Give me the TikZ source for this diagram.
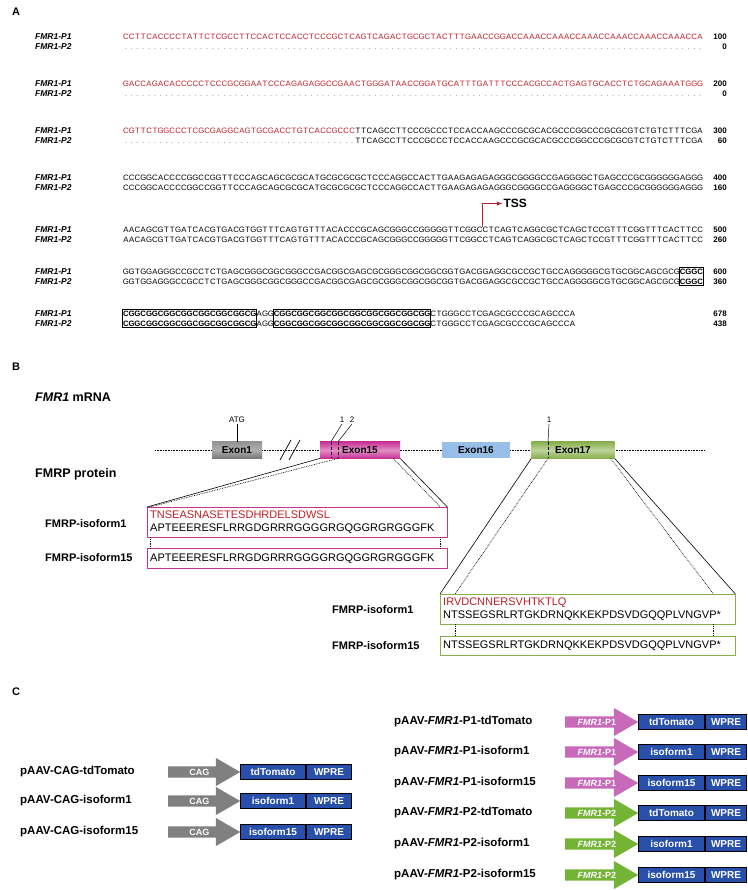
\documentclass[tikz,border=0pt]{standalone}
\usepackage{fontspec}
\setmainfont{Liberation Sans}
\usetikzlibrary{positioning,fit,shapes.arrows}

\definecolor{seqred}{RGB}{190,30,40}
\definecolor{exgrey}{RGB}{120,120,120}
\definecolor{exmag}{RGB}{200,50,150}
\definecolor{exblue}{RGB}{150,190,230}
\definecolor{exgreen}{RGB}{135,175,75}
\definecolor{cdsblue}{RGB}{40,80,170}
\definecolor{pone}{RGB}{200,105,185}
\definecolor{ptwo}{RGB}{115,180,55}

\newcommand{\seqfont}{\fontsize{7.8}{9}\selectfont}
\newcommand{\gname}{\textit{FMR1}}
% one base per cell, so that both rows stay aligned
\newcommand{\seqcell}[1]{\makebox[5.8pt]{#1}}
\def\sq#1{\ifx#1\relax\else\seqcell{#1}\expandafter\sq\fi}
\newcommand{\gapcells}[1]{\foreach \i in {1,...,#1}{\seqcell{.}}}

\begin{document}
\begin{tikzpicture}[x=1pt,y=-1pt,
  seq/.style={font=\seqfont, inner sep=0pt, outer sep=0pt, anchor=base west},
  bseq/.style={seq, font=\seqfont\bfseries},
  gap/.style={seq, text=gray},
  lab/.style={font=\bfseries\itshape\fontsize{8.5}{9}\selectfont, anchor=base west, inner sep=0pt},
  num/.style={font=\bfseries\fontsize{8}{9}\selectfont, anchor=base east, inner sep=0pt},
  seqbox/.style={draw=black, line width=0.8pt, inner xsep=0.3pt, inner ysep=1.5pt},
  panel/.style={font=\bfseries\fontsize{11}{12}\selectfont, anchor=north west, inner sep=0pt},
  head/.style={font=\bfseries\fontsize{12.5}{14}\selectfont, anchor=west, inner sep=0pt},
  exon/.style={minimum height=16.5pt, inner sep=0pt, font=\bfseries\fontsize{10}{11}\selectfont},
  sitelab/.style={font=\fontsize{8}{9}\selectfont, inner sep=1pt},
  prot/.style={inner sep=3pt, align=left, anchor=north west,
    font=\fontsize{11}{12.5}\selectfont},
  protedge/.style={line width=1pt},
  plab/.style={font=\bfseries\fontsize{11}{12}\selectfont, anchor=west, inner sep=0pt},
  vlab/.style={font=\bfseries\fontsize{11.5}{13}\selectfont, anchor=west, inner sep=0pt},
  prom/.style={single arrow, minimum width=28pt, single arrow head extend=6.5pt,
    single arrow tip angle=60, inner sep=1pt, text=white, anchor=west,
    font=\bfseries\fontsize{9}{10}\selectfont},
  cds/.style={draw=black, line width=1pt, fill=cdsblue, text=white, minimum height=15.5pt,
    inner sep=0pt, font=\bfseries\fontsize{10}{11}\selectfont}]

\useasboundingbox (0,0) rectangle (747,890);

% ---------------- A ----------------
\node[panel] (pa) at (12,8) {A};

% row 1
\node[lab] (l1a) at (35,40) {FMR1-P1};
\node[lab] (l1b) at (35,50) {FMR1-P2};
\node[seq, text=seqred] (s1a) at (123,40) {\sq CCTTCACCCCTATTCTCGCCTTCCACTCCACCTCCCGCTCAGTCAGACTGCGCTACTTTGAACCGGACCAAACCAAACCAAACCAAACCAAACCAAACCA\relax};
\node[gap] (s1b) at (123,50) {\gapcells{100}};
\node[num] (n1a) at (727,40) {100};
\node[num] (n1b) at (727,50) {0};

% row 2
\node[lab] (l2a) at (35,87) {FMR1-P1};
\node[lab] (l2b) at (35,97) {FMR1-P2};
\node[seq, text=seqred] (s2a) at (123,87) {\sq GACCAGACACCCCCTCCCGCGGAATCCCAGAGAGGCCGAACTGGGATAACCGGATGCATTTGATTTCCCACGCCACTGAGTGCACCTCTGCAGAAATGGG\relax};
\node[gap] (s2b) at (123,97) {\gapcells{100}};
\node[num] (n2a) at (727,87) {200};
\node[num] (n2b) at (727,97) {0};

% row 3
\node[lab] (l3a) at (35,134) {FMR1-P1};
\node[lab] (l3b) at (35,144) {FMR1-P2};
\node[seq, text=seqred] (s3a) at (123,134) {\sq CGTTCTGGCCCTCGCGAGGCAGTGCGACCTGTCACCGCCC\relax};
\node[seq] (s3b) at (s3a.base east) {\sq TTCAGCCTTCCCGCCCTCCACCAAGCCCGCGCACGCCCGGCCCGCGCGTCTGTCTTTCGA\relax};
\node[gap] (s3c) at (123,144) {\gapcells{40}};
\node[seq] (s3d) at (s3c.base east) {\sq TTCAGCCTTCCCGCCCTCCACCAAGCCCGCGCACGCCCGGCCCGCGCGTCTGTCTTTCGA\relax};
\node[num] (n3a) at (727,134) {300};
\node[num] (n3b) at (727,144) {60};

% row 4
\node[lab] (l4a) at (35,181) {FMR1-P1};
\node[lab] (l4b) at (35,191) {FMR1-P2};
\node[seq] (s4a) at (123,181) {\sq CCCGGCACCCCGGCCGGTTCCCAGCAGCGCGCATGCGCGCGCTCCCAGGCCACTTGAAGAGAGAGGGCGGGGCCGAGGGGCTGAGCCCGCGGGGGGAGGG\relax};
\node[seq] (s4b) at (123,191) {\sq CCCGGCACCCCGGCCGGTTCCCAGCAGCGCGCATGCGCGCGCTCCCAGGCCACTTGAAGAGAGAGGGCGGGGCCGAGGGGCTGAGCCCGCGGGGGGAGGG\relax};
\node[num] (n4a) at (727,181) {400};
\node[num] (n4b) at (727,191) {160};

% row 5
\node[lab] (l5a) at (35,233) {FMR1-P1};
\node[lab] (l5b) at (35,243) {FMR1-P2};
\node[seq] (s5a) at (123,233) {\sq AACAGCGTTGATCACGTGACGTGGTTTCAGTGTTTACACCCGCAGCGGGCCGGGGGTTCGGCC\relax};
\node[seq] (s5b) at (s5a.base east) {\sq TCAGTCAGGCGCTCAGCTCCGTTTCGGTTTCACTTCC\relax};
\node[seq] (s5c) at (123,243) {\sq AACAGCGTTGATCACGTGACGTGGTTTCAGTGTTTACACCCGCAGCGGGCCGGGGGTTCGGCC\relax};
\node[seq] (s5d) at (s5c.base east) {\sq TCAGTCAGGCGCTCAGCTCCGTTTCGGTTTCACTTCC\relax};
\node[num] (n5a) at (727,233) {500};
\node[num] (n5b) at (727,243) {260};
\coordinate (tss0) at ([xshift=-6pt,yshift=1pt]s5a.north east);
\coordinate (tss1) at ([xshift=-6pt,yshift=24pt]s5a.north east);
\node[font=\bfseries\fontsize{12}{13}\selectfont, anchor=west, inner sep=1pt] (tss) at ([xshift=20pt]tss1) {TSS};
\draw[seqred, line width=0.8pt, -latex] (tss0) -- (tss1) -- (tss.west);

% row 6
\node[lab] (l6a) at (35,274) {FMR1-P1};
\node[lab] (l6b) at (35,284) {FMR1-P2};
\node[seq] (s6a) at (123,274) {\sq GGTGGAGGGCCGCCTCTGAGCGGGCGGCGGGCCGACGGCGAGCGCGGGCGGCGGCGGTGACGGAGGCGCCGCTGCCAGGGGGCGTGCGGCAGCGCG\relax};
\node[bseq] (s6b) at (s6a.base east) {\sq CGGC\relax};
\node[seq] (s6c) at (123,284) {\sq GGTGGAGGGCCGCCTCTGAGCGGGCGGCGGGCCGACGGCGAGCGCGGGCGGCGGCGGTGACGGAGGCGCCGCTGCCAGGGGGCGTGCGGCAGCGCG\relax};
\node[bseq] (s6d) at (s6c.base east) {\sq CGGC\relax};
\node[seqbox, fit=(s6b)(s6d)] (box6) {};
\node[num] (n6a) at (727,274) {600};
\node[num] (n6b) at (727,284) {360};

% row 7
\node[lab] (l7a) at (35,316) {FMR1-P1};
\node[lab] (l7b) at (35,326) {FMR1-P2};
\node[bseq] (s7a) at (123,316) {\sq CGGCGGCGGCGGCGGCGGCGGCG\relax};
\node[seq] (s7b) at (s7a.base east) {\sq AGG\relax};
\node[bseq] (s7c) at (s7b.base east) {\sq CGGCGGCGGCGGCGGCGGCGGCGGCGG\relax};
\node[seq] (s7d) at (s7c.base east) {\sq CTGGGCCTCGAGCGCCCGCAGCCCA\relax};
\node[bseq] (s7e) at (123,326) {\sq CGGCGGCGGCGGCGGCGGCGGCG\relax};
\node[seq] (s7f) at (s7e.base east) {\sq AGG\relax};
\node[bseq] (s7g) at (s7f.base east) {\sq CGGCGGCGGCGGCGGCGGCGGCGGCGG\relax};
\node[seq] (s7h) at (s7g.base east) {\sq CTGGGCCTCGAGCGCCCGCAGCCCA\relax};
\node[seqbox, fit=(s7a)(s7e)] (box7a) {};
\node[seqbox, fit=(s7c)(s7g)] (box7b) {};
\node[num] (n7a) at (727,316) {678};
\node[num] (n7b) at (727,326) {438};

% ---------------- B ----------------
\node[panel] (pb) at (12,363) {B};
\node[head] (mrna) at (35,397) {\gname\ mRNA};

\coordinate (gl) at (155,450);
\coordinate (gr) at (705,450);
\draw[densely dotted, line width=0.6pt] (gl) -- (gr);

\node[exon, minimum width=50pt, top color=exgrey!80, bottom color=exgrey, middle color=exgrey!60] (ex1) at (237,450) {Exon1};
\node[exon, minimum width=80pt, top color=exmag, bottom color=exmag, middle color=exmag!55] (ex15) at (360,450) {Exon15};
\node[exon, minimum width=68pt, fill=exblue] (ex16) at (476,450) {Exon16};
\node[exon, minimum width=83pt, top color=exgreen, bottom color=exgreen, middle color=exgreen!55] (ex17) at (573,450) {Exon17};

% break marks
\coordinate (br1a) at (280,460);
\coordinate (br1b) at (291,440);
\coordinate (br2a) at (289,460);
\coordinate (br2b) at (300,440);
\draw[line width=0.7pt] (br1a) -- (br1b);
\draw[line width=0.7pt] (br2a) -- (br2b);

% ATG and splice marks
\node[sitelab] (atg) at (237,420) {ATG};
\draw[line width=0.5pt] (atg.south) -- (ex1.north);
\node[sitelab] (m1) at (342,420) {1};
\node[sitelab] (m2) at (352,420) {2};
\coordinate (k1) at (331,441.75);
\coordinate (k2) at (338,441.75);
\draw[line width=0.5pt] (m1.south) -- (k1);
\draw[line width=0.5pt] (m2.south) -- (k2);
\draw[densely dashed, line width=0.5pt] (k1) -- (k1 |- ex15.south);
\draw[densely dashed, line width=0.5pt] (k2) -- (k2 |- ex15.south);
\node[sitelab] (m3) at (549,420) {1};
\coordinate (k3) at (548,441.75);
\draw[line width=0.5pt] (m3.south) -- (k3);
\draw[densely dashed, line width=0.5pt] (k3) -- (k3 |- ex17.south);

\node[head] (fmrp) at (35,474) {FMRP protein};

% exon15 isoforms
\node[prot, minimum width=300pt, minimum height=30pt, text width=294pt] (pi1) at (147,507)
  {\textcolor{seqred}{TNSEASNASETESDHRDELSDWSL}\\APTEEERESFLRRGDGRRRGGGGRGQGGRGRGGGFK};
\node[prot, minimum width=300pt, minimum height=19.5pt, text width=294pt] (pi15) at (147,548.5)
  {APTEEERESFLRRGDGRRRGGGGRGQGGRGRGGGFK};
\draw[protedge, exmag] (pi1.south west) rectangle (pi1.north east);
\draw[protedge, exmag] (pi15.south west) rectangle (pi15.north east);
\node[plab] (lpi1) at (45,524) {FMRP-isoform1};
\node[plab] (lpi15) at (45,558) {FMRP-isoform15};

\draw[line width=0.6pt] (ex15.south west) -- (pi1.north west);
\draw[line width=0.6pt] (ex15.south east) -- (pi1.north east);
\draw[densely dotted, line width=0.7pt] (k2 |- ex15.south) -- ([xshift=3pt]pi1.north west);
\draw[densely dotted, line width=0.7pt] ([xshift=-7pt]ex15.south east) -- ([xshift=-7pt]pi1.north east);
\draw[densely dotted, line width=0.7pt] ([xshift=3pt]pi1.south west) -- ([xshift=3pt]pi15.north west);
\draw[densely dotted, line width=0.7pt] ([xshift=-7pt]pi1.south east) -- ([xshift=-7pt]pi15.north east);

% exon17 isoforms
\node[prot, minimum width=295pt, minimum height=30pt, text width=289pt] (pj1) at (440,594)
  {\textcolor{seqred}{IRVDCNNERSVHTKTLQ}\\NTSSEGSRLRTGKDRNQKKEKPDSVDGQQPLVNGVP*};
\node[prot, minimum width=295pt, minimum height=19.5pt, text width=289pt] (pj15) at (440,636)
  {NTSSEGSRLRTGKDRNQKKEKPDSVDGQQPLVNGVP*};
\draw[protedge, exgreen] (pj1.south west) rectangle (pj1.north east);
\draw[protedge, exgreen] (pj15.south west) rectangle (pj15.north east);
\node[plab] (lpj1) at (332,610) {FMRP-isoform1};
\node[plab] (lpj15) at (332,646) {FMRP-isoform15};

\draw[line width=0.6pt] (ex17.south west) -- (pj1.north west);
\draw[line width=0.6pt] (ex17.south east) -- (pj1.north east);
\draw[densely dotted, line width=0.7pt] (k3 |- ex17.south) -- ([xshift=15pt]pj1.north west);
\draw[densely dotted, line width=0.7pt] ([xshift=-4pt]ex17.south east) -- ([xshift=-22pt]pj1.north east);
\draw[densely dotted, line width=0.7pt] ([xshift=15pt]pj1.south west) -- ([xshift=15pt]pj15.north west);
\draw[densely dotted, line width=0.7pt] ([xshift=-22pt]pj1.south east) -- ([xshift=-22pt]pj15.north east);

% ---------------- C ----------------
\node[panel] (pc) at (12,688) {C};

% CAG vectors
\node[vlab] (v1) at (20,772) {pAAV-CAG-tdTomato};
\node[prom, fill=gray, minimum height=72pt] (a1) at (168,772) {CAG};
\node[cds, minimum width=65pt, anchor=west] (c1) at (240,772) {tdTomato};
\node[cds, minimum width=45pt, right=0pt of c1] (w1) {WPRE};

\node[vlab] (v2) at (20,801) {pAAV-CAG-isoform1};
\node[prom, fill=gray, minimum height=72pt] (a2) at (168,801) {CAG};
\node[cds, minimum width=65pt, anchor=west] (c2) at (240,801) {isoform1};
\node[cds, minimum width=45pt, right=0pt of c2] (w2) {WPRE};

\node[vlab] (v3) at (20,832) {pAAV-CAG-isoform15};
\node[prom, fill=gray, minimum height=72pt] (a3) at (168,832) {CAG};
\node[cds, minimum width=65pt, anchor=west] (c3) at (240,832) {isoform15};
\node[cds, minimum width=45pt, right=0pt of c3] (w3) {WPRE};

% FMR1 promoter vectors
\node[vlab] (v4) at (394,722) {pAAV-\gname-P1-tdTomato};
\node[prom, fill=pone, minimum height=73pt] (a4) at (565,722) {\gname-P1};
\node[cds, minimum width=66pt, anchor=west] (c4) at (638,722) {tdTomato};
\node[cds, minimum width=41pt, right=0pt of c4] (w4) {WPRE};

\node[vlab] (v5) at (394,752) {pAAV-\gname-P1-isoform1};
\node[prom, fill=pone, minimum height=73pt] (a5) at (565,752) {\gname-P1};
\node[cds, minimum width=66pt, anchor=west] (c5) at (638,752) {isoform1};
\node[cds, minimum width=41pt, right=0pt of c5] (w5) {WPRE};

\node[vlab] (v6) at (394,783) {pAAV-\gname-P1-isoform15};
\node[prom, fill=pone, minimum height=73pt] (a6) at (565,783) {\gname-P1};
\node[cds, minimum width=66pt, anchor=west] (c6) at (638,783) {isoform15};
\node[cds, minimum width=41pt, right=0pt of c6] (w6) {WPRE};

\node[vlab] (v7) at (394,813) {pAAV-\gname-P2-tdTomato};
\node[prom, fill=ptwo, minimum height=73pt] (a7) at (565,813) {\gname-P2};
\node[cds, minimum width=66pt, anchor=west] (c7) at (638,813) {tdTomato};
\node[cds, minimum width=41pt, right=0pt of c7] (w7) {WPRE};

\node[vlab] (v8) at (394,844) {pAAV-\gname-P2-isoform1};
\node[prom, fill=ptwo, minimum height=73pt] (a8) at (565,844) {\gname-P2};
\node[cds, minimum width=66pt, anchor=west] (c8) at (638,844) {isoform1};
\node[cds, minimum width=41pt, right=0pt of c8] (w8) {WPRE};

\node[vlab] (v9) at (394,875) {pAAV-\gname-P2-isoform15};
\node[prom, fill=ptwo, minimum height=73pt] (a9) at (565,875) {\gname-P2};
\node[cds, minimum width=66pt, anchor=west] (c9) at (638,875) {isoform15};
\node[cds, minimum width=41pt, right=0pt of c9] (w9) {WPRE};

\end{tikzpicture}
\end{document}
